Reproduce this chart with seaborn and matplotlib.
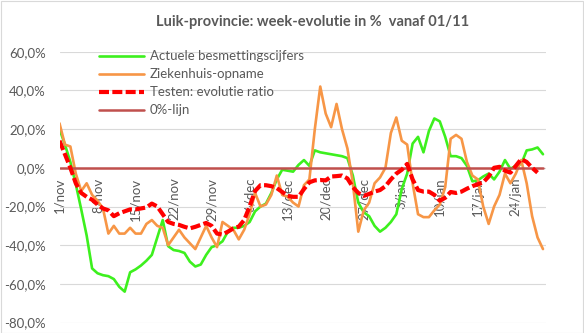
import numpy as np
import pandas as pd
import matplotlib
matplotlib.use("Agg")
import matplotlib.pyplot as plt
from matplotlib.patches import Rectangle
from matplotlib.ticker import FuncFormatter
import seaborn as sns

# ---------------- data (week-evolution in %, daily from 1 Nov) ----------------
tick_labels = ["1/nov", "8/nov", "15/nov", "22/nov", "29/nov", "6/dec", "13/dec",
               "20/dec", "27/dec", "3/jan", "10/jan", "17/jan", "24/jan"]

besmettingen = [20, 12, 3, -8.5, -21.5, -35, -52, -54.5, -55.5, -56,
                -57.5, -61.5, -64, -54, -52.5, -50.5, -48, -45, -36, -27,
                -40.5, -42.5, -43, -44, -48.5, -51, -50, -45, -41, -40,
                -38, -33, -31, -31, -30, -28, -22.5, -20, -18.5, -13,
                -6, -1, -1.5, -2, 1.5, 4, 1, 9, 8, 7.5,
                7, 6.5, 6, 5, -4, -18, -23, -25, -30, -33,
                -31, -28, -24, -11, -3, 12.5, 16, 8, 19, 25.5,
                24, 16, 6, 6, 5, 1, -7, -6.5, -4.5, -3,
                -6, -2, 4, -0.5, 1, 2, 9, 9.5, 10.5, 7]

ziekenhuis = [23, 12, 11, -3, -12, -8, -14, -17, -21, -34,
              -30, -34, -34, -31, -34, -34, -29, -27, -30, -31,
              -40, -36, -32, -36, -39, -42, -36, -30, -36, -41,
              -28, -30, -32, -37, -32, -24, -13, -20, -19, -14,
              -4, -14, -15, -18, -20, -9, -6, 20, 42, 28,
              21, 33, 20, 10, -8, -33, -22, -18, -8, -5,
              0, 18, 26, 14, 12, -8, -24, -25.5, -25.5, -22,
              -19, -10, 15, 17, 15, 3, -4, -6, -20, -29,
              -20, -14, -3, -8, -3, 4, -8, -25, -36, -42]

testen_ratio = [14, 7, 0, -8, -13, -15, -16.5, -19, -21, -22,
                -25, -23.5, -22.5, -21.5, -21.5, -21, -20.5, -18.5, -20, -24,
                -28, -29, -29.5, -30.5, -31.3, -30.5, -29.5, -28.5, -30, -34,
                -34.5, -33, -31.3, -30.4, -27, -20, -12, -9, -9, -9.5,
                -10.5, -12.5, -14.5, -15, -15, -11, -7.5, -6.5, -6.3, -6.5,
                -4.5, -4.3, -4, -5.5, -10, -13, -14.5, -13.5, -12.3, -11.5,
                -9.5, -6, -3, -1, 2, -6, -11.5, -12.3, -12.3, -14,
                -17, -15.5, -12.5, -13, -12.3, -10.8, -9.5, -8.5, -7.5, -4.5,
                0, 0.5, -1.5, -2.5, 1, 4.5, 3, 0, -2.5, np.nan]

nul_lijn = [0] * len(besmettingen)

series_names = ["Actuele besmettingscijfers", "Ziekenhuis-opname",
                "Testen: evolutie ratio", "0%-lijn"]
title = "Luik-provincie: week-evolutie in %  vanaf 01/11"

days = np.arange(len(besmettingen))
df = pd.DataFrame({"dag": days, "groen": besmettingen, "oranje": ziekenhuis,
                   "rood": testen_ratio, "nul": nul_lijn})

# ---------------- style ----------------
sns.set_theme(style="white")
plt.rcParams["font.family"] = ["Lato", "DejaVu Sans"]
TXT = "#595959"

W, H = 584, 333
fig = plt.figure(figsize=(W / 100, H / 100), dpi=100)
fig.patch.set_facecolor("white")
ax_l, ax_r = 59.5, 545.7
ax_t, ax_b = 51.7, 322.6
ax = fig.add_axes([ax_l / W, 1 - ax_b / H, (ax_r - ax_l) / W, (ax_b - ax_t) / H])

sns.lineplot(data=df, x="dag", y="groen", ax=ax, color="#3DF01E", lw=1.9,
             label=series_names[0], zorder=3)
sns.lineplot(data=df, x="dag", y="oranje", ax=ax, color="#F79646", lw=1.9,
             label=series_names[1], zorder=3)
sns.lineplot(data=df, x="dag", y="rood", ax=ax, color="#FF0000", lw=3.0,
             linestyle=(0, (2.4, 0.8)), label=series_names[2], zorder=4)
sns.lineplot(data=df, x="dag", y="nul", ax=ax, color="#C0504D", lw=1.8,
             label=series_names[3], zorder=3.5)

ax.set_xlim(0, len(days) - 0.5)
ax.set_ylim(-80, 60)
ax.set_yticks(np.arange(-80, 61, 20))
ax.yaxis.set_major_formatter(FuncFormatter(lambda v, p: f"{v:.1f}%".replace(".", ",")))
ax.set_xticks(np.arange(0, len(days), 7)[:len(tick_labels)])
ax.set_xticklabels(tick_labels)
ax.set_xlabel("")
ax.set_ylabel("")

for s in ax.spines.values():
    s.set_visible(False)
ax.spines["bottom"].set_position(("data", 0))
ax.set_axisbelow(True)
ax.yaxis.grid(True, color="#D9D9D9", lw=0.8)
ax.xaxis.grid(False)
ax.tick_params(axis="y", length=0, pad=10, labelsize=9.5, labelcolor=TXT)
ax.tick_params(axis="x", direction="out", length=4, width=0.8, color="#BFBFBF",
               pad=3, labelsize=9.5, labelcolor=TXT, labelrotation=90)
for lab in ax.get_xticklabels():
    lab.set_va("top")
    lab.set_ha("center")

leg = ax.legend(loc="upper left", bbox_to_anchor=((99 - ax_l) / (ax_r - ax_l), 1.005),
                frameon=False, fontsize=9.5, handlelength=3.4, handletextpad=0.45,
                labelspacing=0.45, borderpad=0, borderaxespad=0)
for t in leg.get_texts():
    t.set_color(TXT)

fig.text(0.535, 1 - 22 / H, title, ha="center", va="center", fontsize=10.5,
         fontweight="bold", color=TXT)

fig.patches.append(Rectangle((0.5 / W, 0.5 / H), 1 - 1.5 / W, 1 - 1.5 / H,
                             transform=fig.transFigure, fill=False,
                             edgecolor="#D9D9D9", lw=0.8))

fig.savefig("out.png", dpi=100, facecolor="white")
